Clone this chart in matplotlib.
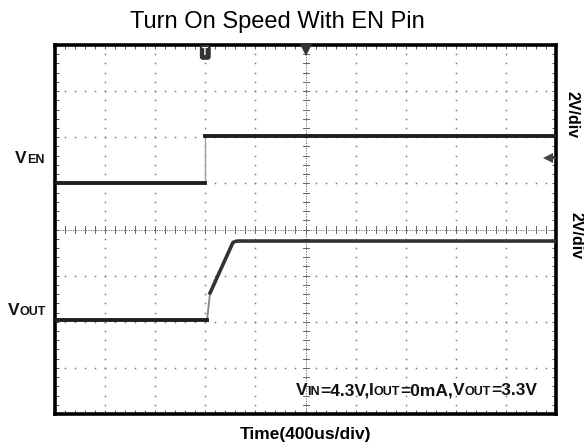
import numpy as np
import matplotlib
matplotlib.use("Agg")
import matplotlib.pyplot as plt
from matplotlib.offsetbox import TextArea, HPacker, AnnotationBbox

plt.rcParams['font.family'] = ['Liberation Sans', 'DejaVu Sans']

# ---- data (time in us, voltage in V) ----
time_per_div = 400      # us/div
volt_per_div = 2        # V/div
trigger_time = 1200     # us

ven_t = [0, 1200, 1200, 4000]
ven_v = [0.0, 0.0, 2.05, 2.05]
ven_offset = 10.0       # display position of VEN ground (V on screen)

vout_t = [0, 1214, 1238, 1421, 1445, 1465, 4000]
vout_v = [0.0, 0.0, 1.17, 3.36, 3.41, 3.42, 3.42]
vout_offset = 4.08

title = "Turn On Speed With EN Pin"
xlabel = "Time(400us/div)"
scale_labels = ["2V/div", "2V/div"]

W, H = 584, 447
fig = plt.figure(figsize=(W / 100, H / 100), dpi=100)
L, R, T, B = 55, 556, 45, 414
ax = fig.add_axes([L / W, 1 - B / H, (R - L) / W, (B - T) / H])

ndx, ndy = 10, 8
xmax = ndx * time_per_div
ymax = ndy * volt_per_div
ax.set_xlim(0, xmax)
ax.set_ylim(0, ymax)

# ---- graticule dots ----
gray = '#7a7a7a'
sub = 5
for i in range(1, ndx):
    if i == ndx // 2:
        continue
    ys = np.arange(1, ndy * sub) * volt_per_div / sub
    ax.plot(np.full_like(ys, i * time_per_div), ys, ls='none', marker='s',
            ms=1.1, mew=0, color=gray, zorder=1)
for j in range(1, ndy):
    if j == ndy // 2:
        continue
    xs = np.arange(1, ndx * sub) * time_per_div / sub
    ax.plot(xs, np.full_like(xs, j * volt_per_div), ls='none', marker='s',
            ms=1.1, mew=0, color=gray, zorder=1)

# centre lines with ticks
cx, cy = xmax / 2, ymax / 2
ax.axvline(cx, color='#666', lw=0.7, ls=(0, (1.2, 1.4)), zorder=1)
ax.axhline(cy, color='#666', lw=0.7, ls=(0, (1.2, 1.4)), zorder=1)
tx = 3 / 50.1 * time_per_div
ty = 3 / 46.1 * volt_per_div
for k in range(1, ndy * sub):
    y = k * volt_per_div / sub
    ax.plot([cx - tx, cx + tx], [y, y], color='#666', lw=0.7, zorder=1)
for k in range(1, ndx * sub):
    x = k * time_per_div / sub
    ax.plot([x, x], [cy - ty, cy + ty], color='#666', lw=0.7, zorder=1)

# frame ticks
ax.set_xticks(np.arange(0, xmax + 1, time_per_div))
ax.set_yticks(np.arange(0, ymax + 0.01, volt_per_div))
ax.set_xticks(np.arange(0, xmax + 1, time_per_div / sub), minor=True)
ax.set_yticks(np.arange(0, ymax + 0.01, volt_per_div / sub), minor=True)
ax.tick_params(which='both', direction='in', top=True, right=True,
               length=3, width=0.7, color='#555',
               labelbottom=False, labelleft=False)
for s in ax.spines.values():
    s.set_linewidth(2.6)
    s.set_color('black')

# ---- traces ----
trace = '#202020'
ven_y = [ven_offset + v for v in ven_v]
ax.plot(ven_t[1:3], ven_y[1:3], color='#9a9a9a', lw=1.0, zorder=3)
ax.plot(ven_t[:2], ven_y[:2], color=trace, lw=2.8, zorder=4)
ax.plot(ven_t[2:], ven_y[2:], color=trace, lw=2.8, zorder=4)

vout_y = [vout_offset + v for v in vout_v]
ax.plot(vout_t[1:3], vout_y[1:3], color='#8a8a8a', lw=1.4, zorder=3)
ax.plot(vout_t[:2], vout_y[:2], color=trace, lw=2.8, zorder=4)
ax.plot(vout_t[2:], vout_y[2:], color='#333', lw=2.6, zorder=4,
        solid_joinstyle='round')

# ---- markers ----
ax.plot([cx], [ymax - 0.2], marker='v', ms=8, color='#333', mew=0,
        clip_on=False, zorder=6)
ax.text(trigger_time, ymax - 0.32, 'T', color='white', fontsize=7,
        fontweight='bold', ha='center', va='center', zorder=6,
        bbox=dict(boxstyle='round,pad=0.18,rounding_size=0.25',
                  fc='#333', ec='#333'))
arr_x = (548 - L) / (R - L) * xmax
arr_y = (B - 158) / (B - T) * ymax
ax.plot([arr_x], [arr_y], marker='<', ms=7, color='#444', mew=0, zorder=6)
ax.plot([arr_x, xmax], [arr_y, arr_y], color='#444', lw=1.5, zorder=6)

# ---- texts ----
fig.text(277 / W, 1 - 22 / H, title, fontsize=17, ha='center',
         va='center')
fig.text(305 / W, 1 - 434 / H, xlabel, fontsize=12.5, fontweight='bold',
         ha='center', va='center')
fig.text(572 / W, 1 - 91 / H, scale_labels[0], fontsize=11.5,
         fontweight='bold', rotation=270, ha='center', va='top')
fig.text(576 / W, 1 - 212 / H, scale_labels[1], fontsize=11.5,
         fontweight='bold', rotation=270, ha='center', va='top')


def mixed(parts, px, py, align):
    boxes = []
    for s, small in parts:
        boxes.append(TextArea(s, textprops=dict(
            fontsize=9 if small else 12.5, fontweight='bold', color='#111')))
    pack = HPacker(children=boxes, align='baseline', pad=0, sep=0)
    ab = AnnotationBbox(pack, (px, H - py), xycoords='figure pixels',
                        box_alignment=align, frameon=False, pad=0)
    fig.add_artist(ab)


mixed([('V', False), ('EN', True)], 15, 166, (0, 0))
mixed([('V', False), ('OUT', True)], 8, 318, (0, 0))
mixed([('V', False), ('IN', True), ('=4.3V,', False), ('I', False),
       ('OUT', True), ('=0mA,', False), ('V', False), ('OUT', True),
       ('=3.3V', False)], 537, 398, (1, 0))

fig.savefig('out.png', dpi=100)
